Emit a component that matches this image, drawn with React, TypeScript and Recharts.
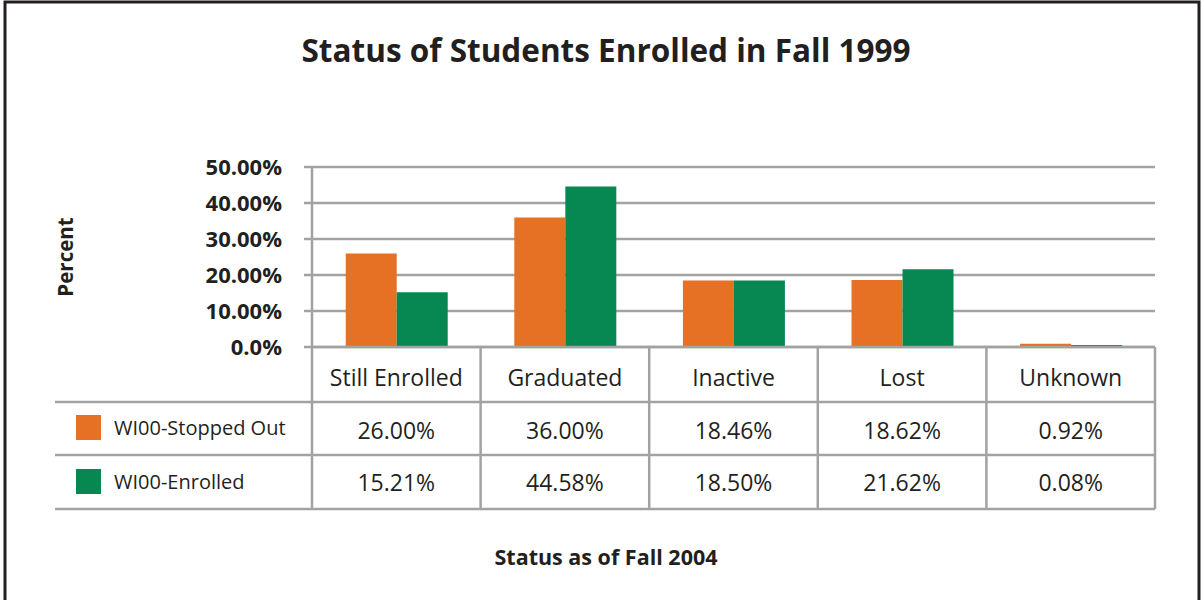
import { BarChart, Bar, XAxis, YAxis, CartesianGrid } from "recharts";

const categories = ["Still Enrolled", "Graduated", "Inactive", "Lost", "Unknown"];
const stoppedOut = [26.0, 36.0, 18.46, 18.62, 0.92];
const enrolled = [15.21, 44.58, 18.5, 21.62, 0.08];
const yTicks = [0, 10, 20, 30, 40, 50];
const seriesNames = ["WI00-Stopped Out", "WI00-Enrolled"];

const data = categories.map((name, i) => ({
  name,
  stoppedOut: stoppedOut[i],
  enrolled: enrolled[i],
}));

const W = 1202;
const H = 600;
const PLOT_LEFT = 312;
const PLOT_RIGHT = 1155;
const PLOT_TOP = 167;
const PLOT_BOTTOM = 347;
const ROW1 = 402;
const ROW2 = 455;
const ROW3 = 509;
const COL_W = (PLOT_RIGHT - PLOT_LEFT) / categories.length;

const ORANGE = "#e67124";
const GREEN = "#078852";
const GRID = "#a2a2a4";
const INK = "#231f20";
const FONT = "'Open Sans', sans-serif";

const fmtY = (v: number) => (v === 0 ? "0.0%" : `${v.toFixed(2)}%`);

// x-axis tick draws one column of the data table
const TableTick = (props: any) => {
  const { x, payload } = props;
  const i = payload.index;
  return (
    <g>
      <line x1={x + COL_W / 2} x2={x + COL_W / 2} y1={PLOT_BOTTOM} y2={ROW3} stroke={GRID} strokeWidth={2.5} />
      <text x={x} y={386} textAnchor="middle" fontFamily={FONT} fontSize={23} fill={INK}>
        {payload.value}
      </text>
      <text x={x} y={439} textAnchor="middle" fontFamily={FONT} fontSize={23} fill={INK}>
        {stoppedOut[i].toFixed(2)}%
      </text>
      <text x={x} y={491} textAnchor="middle" fontFamily={FONT} fontSize={23} fill={INK}>
        {enrolled[i].toFixed(2)}%
      </text>
    </g>
  );
};

export default function App() {
  return (
    <div style={{ position: "absolute", left: 0, top: 0, width: W, height: H, background: "#fff" }}>
      <BarChart
        width={W}
        height={H}
        data={data}
        margin={{ top: PLOT_TOP, right: W - PLOT_RIGHT, left: 0, bottom: 0 }}
        barCategoryGap="20%"
        barGap={0}
      >
        <CartesianGrid vertical={false} stroke={GRID} strokeWidth={2.5} />
        <XAxis
          dataKey="name"
          height={H - PLOT_BOTTOM}
          axisLine={{ stroke: GRID, strokeWidth: 2.5 }}
          tickLine={false}
          interval={0}
          tick={<TableTick />}
        />
        <YAxis
          width={PLOT_LEFT}
          domain={[0, 50]}
          ticks={yTicks}
          tickFormatter={fmtY}
          axisLine={{ stroke: GRID, strokeWidth: 2.5 }}
          tickLine={{ stroke: GRID, strokeWidth: 2.5 }}
          tickSize={8}
          tickMargin={22}
          tick={{ fontFamily: FONT, fontSize: 22, fontWeight: 700, fill: INK }}
        />
        <Bar dataKey="stoppedOut" fill={ORANGE} minPointSize={2} isAnimationActive={false} />
        <Bar dataKey="enrolled" fill={GREEN} minPointSize={2} isAnimationActive={false} />
      </BarChart>
      <svg width={W} height={H} style={{ position: "absolute", left: 0, top: 0, pointerEvents: "none" }}>
        <polyline points={`5,${H} 5,2 1199,2 1199,${H}`} fill="none" stroke={INK} strokeWidth={3} />
        <text x={606} y={62} textAnchor="middle" fontFamily={FONT} fontSize={31.5} fontWeight={700} fill={INK}>
          Status of Students Enrolled in Fall 1999
        </text>
        <text
          x={0}
          y={0}
          transform="translate(73,257) rotate(-90)"
          textAnchor="middle"
          fontFamily={FONT}
          fontSize={20.5}
          fontWeight={700}
          fill={INK}
        >
          Percent
        </text>
        <line x1={PLOT_LEFT} x2={PLOT_LEFT} y1={PLOT_BOTTOM} y2={ROW3} stroke={GRID} strokeWidth={2.5} />
        {[ROW1, ROW2, ROW3].map((y) => (
          <line key={y} x1={55} x2={PLOT_RIGHT} y1={y} y2={y} stroke={GRID} strokeWidth={2.5} />
        ))}
        <rect x={76} y={415} width={25} height={25} fill={ORANGE} />
        <text x={114} y={435} fontFamily={FONT} fontSize={20} fill={INK}>
          {seriesNames[0]}
        </text>
        <rect x={76} y={469} width={25} height={25} fill={GREEN} />
        <text x={114} y={489} fontFamily={FONT} fontSize={20} fill={INK}>
          {seriesNames[1]}
        </text>
        <text x={606} y={565} textAnchor="middle" fontFamily={FONT} fontSize={21.5} fontWeight={700} fill={INK}>
          Status as of Fall 2004
        </text>
      </svg>
    </div>
  );
}
